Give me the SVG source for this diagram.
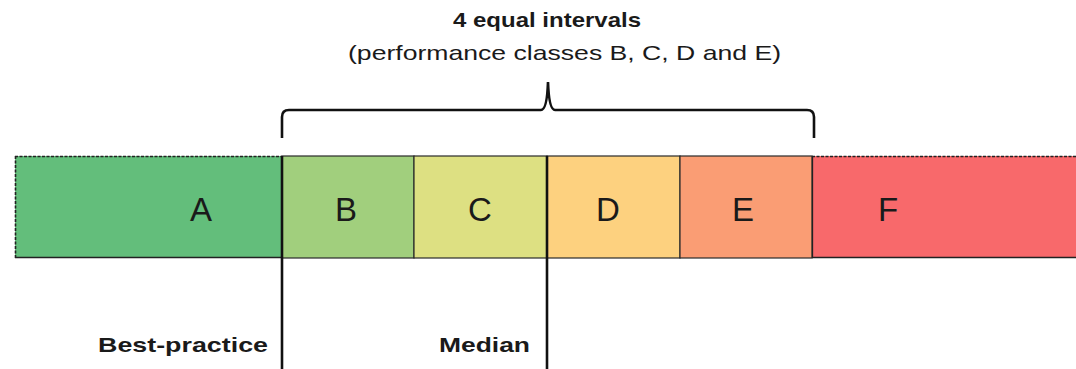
<svg xmlns="http://www.w3.org/2000/svg" width="1076" height="369" viewBox="0 0 1076 369">
<style>
.cell{stroke:#2a2a2a;stroke-width:1.2}
.lbl{font-family:"Liberation Sans",Arial,sans-serif;font-size:33px;fill:#1a1a1a;text-anchor:middle}
.b{font-family:"Liberation Sans",Arial,sans-serif;font-weight:bold;font-size:21px;fill:#1a1a1a}
.r{font-family:"Liberation Sans",Arial,sans-serif;font-size:21px;fill:#1a1a1a}
.thick{stroke:#111;stroke-width:2.6;fill:none}
</style>
<rect width="1076" height="369" fill="#fff"/>
<g id="cellA"><rect x="15" y="156" width="267" height="102" fill="#63BE7B"/><text class="lbl" x="201" y="221">A</text></g>
<g id="cellB"><rect class="cell" x="282" y="156" width="132" height="102" fill="#A1CF7D"/><text class="lbl" x="346" y="221">B</text></g>
<g id="cellC"><rect class="cell" x="414" y="156" width="133" height="102" fill="#DDE082"/><text class="lbl" x="480" y="221">C</text></g>
<g id="cellD"><rect class="cell" x="547" y="156" width="133" height="102" fill="#FDD17F"/><text class="lbl" x="608" y="221">D</text></g>
<g id="cellE"><rect class="cell" x="680" y="156" width="132" height="102" fill="#FA9D74"/><text class="lbl" x="743" y="221">E</text></g>
<g id="cellF"><rect x="812" y="156" width="270" height="102" fill="#F8696B"/><text class="lbl" x="888" y="221">F</text></g>
<g id="outline" fill="none" stroke="#222">
<path d="M15,156.5 H282 M812,156.5 H1076 M15.5,156 V258" stroke-dasharray="3,1.5" stroke-width="1.6"/>
<path d="M15,257.5 H282 M812,257.5 H1076 M812.5,156 V258" stroke-width="1.3"/>
</g>
<g id="connectors">
<path class="thick" d="M282,156 V369"/>
<path class="thick" d="M547,156 V369"/>
<path class="thick" d="M282,138 V117 Q282,110 289,110 H541 Q547,110 548,82 Q549,110 555,110 H807 Q814,110 814,117 V138"/>
</g>
<g id="title">
<text class="b" x="453" y="27" textLength="188" lengthAdjust="spacingAndGlyphs">4 equal intervals</text>
<text class="r" x="348" y="60" textLength="433" lengthAdjust="spacingAndGlyphs">(performance classes B, C, D and E)</text>
</g>
<g id="markers">
<text class="b" x="98" y="352" textLength="170" lengthAdjust="spacingAndGlyphs">Best-practice</text>
<text class="b" x="439" y="352" textLength="91" lengthAdjust="spacingAndGlyphs">Median</text>
</g>
</svg>
